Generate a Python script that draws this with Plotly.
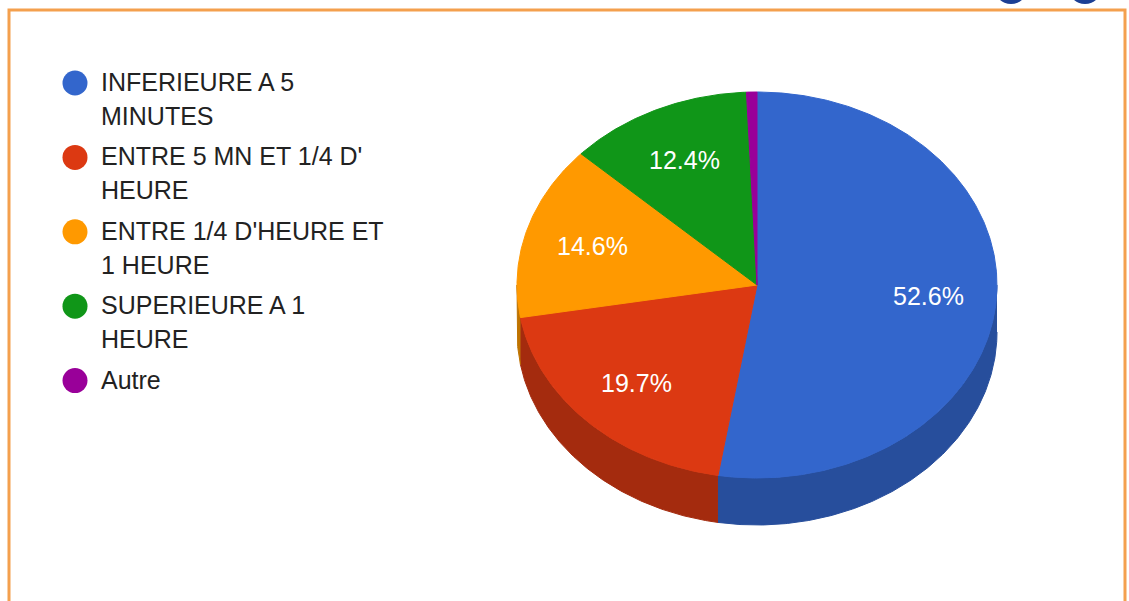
import math
import numpy as np
import plotly.graph_objects as go

# ---- data ----
categories = ["INFERIEURE A 5 MINUTES", "ENTRE 5 MN ET 1/4 D' HEURE",
              "ENTRE 1/4 D'HEURE ET 1 HEURE", "SUPERIEURE A 1 HEURE", "Autre"]
legend_lines = [["INFERIEURE A 5", "MINUTES"],
                ["ENTRE 5 MN ET 1/4 D'", "HEURE"],
                ["ENTRE 1/4 D'HEURE ET", "1 HEURE"],
                ["SUPERIEURE A 1", "HEURE"],
                ["Autre"]]
values = [52.6, 19.7, 14.6, 12.4, 0.7]
colors = ["#3366cc", "#dc3912", "#ff9900", "#109618", "#990099"]
side_colors = ["#274e9c", "#a42b0e", "#bf7300", "#0c7112", "#730073"]

# ---- geometry (pixel space) ----
W, H = 1129, 601
cx, cy, rx, ry, depth = 757, 285, 240, 193, 47
label_r = 0.715


def pt(theta_deg, r=1.0, dy=0.0):
    t = math.radians(theta_deg)
    return cx + rx * r * math.sin(t), cy - ry * r * math.cos(t) + dy


fig = go.Figure()
total = sum(values)
bounds = []
acc = 0.0
for v in values:
    a0 = acc / total * 360
    acc += v
    a1 = acc / total * 360
    bounds.append((a0, a1))

# side walls (front half only: 90..270 deg)
for (a0, a1), sc in zip(bounds, side_colors):
    s0, s1 = max(a0, 90), min(a1, 270)
    if s1 <= s0:
        continue
    th = np.linspace(s0, s1, max(3, int((s1 - s0) * 2)))
    xs = [pt(t)[0] for t in th] + [pt(t, dy=depth)[0] for t in th[::-1]]
    ys = [pt(t)[1] for t in th] + [pt(t, dy=depth)[1] for t in th[::-1]]
    fig.add_trace(go.Scatter(x=xs, y=ys, fill="toself", fillcolor=sc, mode="lines",
                             line=dict(color=sc, width=1), hoverinfo="skip", showlegend=False))

# top faces
for (a0, a1), c in zip(bounds, colors):
    th = np.linspace(a0, a1, max(3, int((a1 - a0) * 2)))
    xs = [cx] + [pt(t)[0] for t in th] + [cx]
    ys = [cy] + [pt(t)[1] for t in th] + [cy]
    fig.add_trace(go.Scatter(x=xs, y=ys, fill="toself", fillcolor=c, mode="lines",
                             line=dict(color=c, width=1), hoverinfo="skip", showlegend=False))

annotations = []
# slice labels
for (a0, a1), v in zip(bounds, values):
    if v / total < 0.05:
        continue
    x, y = pt((a0 + a1) / 2, r=label_r)
    annotations.append(dict(x=x, y=y, xref="x", yref="y", text=f"{v:.1f}%", showarrow=False,
                            xanchor="center", yanchor="middle",
                            font=dict(family="Liberation Sans, Arial", size=25, color="white")))

# legend
lx_marker, lx_text, ly0, line_h, gap = 75, 99, 82, 33.7, 7
line_idx = 0
mx, my = [], []
for i, lines in enumerate(legend_lines):
    y_first = ly0 + line_idx * line_h + i * gap
    mx.append(lx_marker)
    my.append(y_first + 1)
    for j, ln in enumerate(lines):
        annotations.append(dict(x=lx_text, y=y_first + j * line_h, xref="x", yref="y", text=ln,
                                showarrow=False, xanchor="left", yanchor="middle",
                                font=dict(family="Liberation Sans, Arial", size=25, color="#222222")))
    line_idx += len(lines)
fig.add_trace(go.Scatter(x=mx, y=my, mode="markers",
                         marker=dict(size=25, color=colors, line=dict(width=0)),
                         hoverinfo="skip", showlegend=False))

shapes = [
    dict(type="rect", xref="x", yref="y", x0=9, y0=10, x1=1125, y1=650,
         line=dict(color="#f4a04e", width=3), layer="below"),
    dict(type="circle", xref="x", yref="y", x0=994, y0=-30, x1=1028, y1=4,
         fillcolor="#1c3f94", line=dict(width=0)),
    dict(type="circle", xref="x", yref="y", x0=1068, y0=-30, x1=1102, y1=4,
         fillcolor="#1c3f94", line=dict(width=0)),
]

fig.update_layout(
    width=W, height=H, margin=dict(l=0, r=0, t=0, b=0),
    paper_bgcolor="white", plot_bgcolor="white",
    xaxis=dict(range=[0, W], visible=False, fixedrange=True),
    yaxis=dict(range=[H, 0], visible=False, fixedrange=True),
    annotations=annotations, shapes=shapes, showlegend=False,
)
fig.write_html("out.html", config={"displayModeBar": False},
               post_script="document.body.style.margin='0';document.body.style.overflow='hidden';")
